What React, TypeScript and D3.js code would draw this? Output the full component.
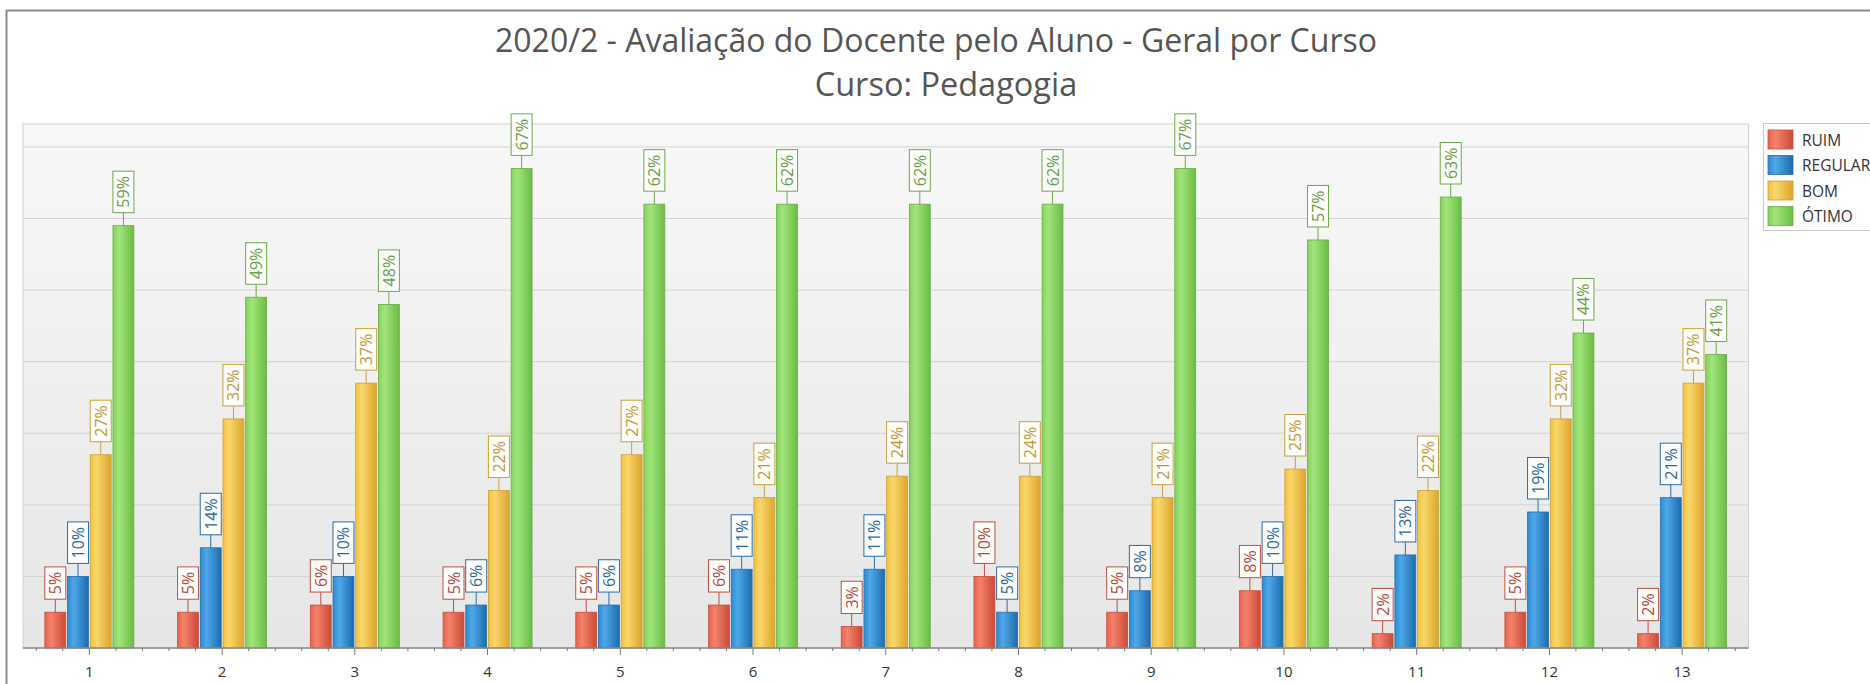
import React from 'react';
import * as d3 from 'd3';

const WIDTH = 1870;
const HEIGHT = 684;
const PLOT = { left: 23, right: 1748.5, top: 124, bottom: 648 };
const FONT = "'Open Sans', 'Noto Sans', sans-serif";

const CATEGORIES = ['1', '2', '3', '4', '5', '6', '7', '8', '9', '10', '11', '12', '13'];
const SERIES = ['RUIM', 'REGULAR', 'BOM', 'ÓTIMO'];
const RUIM = [5, 5, 6, 5, 5, 6, 3, 10, 5, 8, 2, 5, 2];
const REGULAR = [10, 14, 10, 6, 6, 11, 11, 5, 8, 10, 13, 19, 21];
const BOM = [27, 32, 37, 22, 27, 21, 24, 24, 21, 25, 22, 32, 37];
const OTIMO = [59, 49, 48, 67, 62, 62, 62, 62, 67, 57, 63, 44, 41];
const VALUES = [RUIM, REGULAR, BOM, OTIMO];
const GRID = [10, 20, 30, 40, 50, 60, 70];

// light / mid / dark for the bar gradient, then outline and label colour
const COLORS = [
    { light: '#f4826b', mid: '#e8634d', dark: '#cc4a37', stroke: '#c2503f', label: '#b4493b' },
    { light: '#4ea8e8', mid: '#2e8bd3', dark: '#1d6cad', stroke: '#2b6ea6', label: '#2b6a9a' },
    { light: '#f9d76c', mid: '#f2c23e', dark: '#dea52a', stroke: '#c9a13c', label: '#c09a38' },
    { light: '#a2e47c', mid: '#85d35a', dark: '#69bd43', stroke: '#6caa4a', label: '#68a04a' },
];

export default function App() {
    const x0 = d3.scaleBand().domain(CATEGORIES).range([PLOT.left, PLOT.right]).padding(0);
    const bw = x0.bandwidth();
    const x1 = d3.scaleBand().domain(SERIES).range([bw / 2 - 44.5, bw / 2 + 44.5]).paddingInner(0.08);
    const y = d3.scaleLinear().domain([0, 73.2]).range([PLOT.bottom, PLOT.top]);

    const ticks: { x: number; major: boolean }[] = [];
    CATEGORIES.forEach(c => {
        const cx = (x0(c) as number) + bw / 2;
        for (let k = -2; k <= 2; k++) ticks.push({ x: cx + k * bw / 5, major: k === 0 });
    });

    return (
        <svg width={WIDTH} height={HEIGHT} style={{ position: 'absolute', left: 0, top: 0, background: '#fff' }}>
            <defs>
                <linearGradient id="plotBg" x1="0" y1="0" x2="0" y2="1">
                    <stop offset="0" stopColor="#f8f8f8" />
                    <stop offset="1" stopColor="#e6e6e6" />
                </linearGradient>
                {COLORS.map((c, i) => (
                    <linearGradient key={i} id={`bar${i}`} x1="0" y1="0" x2="1" y2="0">
                        <stop offset="0" stopColor={c.mid} />
                        <stop offset="0.3" stopColor={c.light} />
                        <stop offset="1" stopColor={c.dark} />
                    </linearGradient>
                ))}
            </defs>

            {/* outer frame */}
            <line x1={6.5} x2={WIDTH} y1={10.5} y2={10.5} stroke="#8c8c8c" strokeWidth={2} />
            <line x1={6.5} x2={6.5} y1={10} y2={HEIGHT} stroke="#8c8c8c" strokeWidth={2} />

            {/* titles */}
            <g fontFamily={FONT} fill="#555" textAnchor="middle">
                <text x={936} y={52} fontSize={32}>2020/2 - Avaliação do Docente pelo Aluno - Geral por Curso</text>
                <text x={946} y={96} fontSize={32.5}>Curso: Pedagogia</text>
            </g>

            {/* plot area */}
            <rect x={PLOT.left} y={PLOT.top} width={PLOT.right - PLOT.left} height={PLOT.bottom - PLOT.top}
                fill="url(#plotBg)" stroke="#d0d0d0" />
            {GRID.map(g => (
                <line key={g} x1={PLOT.left} x2={PLOT.right} y1={y(g)} y2={y(g)} stroke="#d4d4d4" />
            ))}

            {/* bars */}
            {VALUES.map((vals, s) => (
                <g key={s}>
                    {vals.map((v, i) => {
                        const bx = (x0(CATEGORIES[i]) as number) + (x1(SERIES[s]) as number);
                        return (
                            <rect key={i} x={bx} y={y(v)} width={x1.bandwidth()} height={y(0) - y(v)}
                                fill={`url(#bar${s})`} stroke={COLORS[s].stroke} strokeWidth={0.8} />
                        );
                    })}
                </g>
            ))}

            {/* axis */}
            <line x1={PLOT.left} x2={PLOT.right} y1={PLOT.bottom} y2={PLOT.bottom} stroke="#8a8a8a" strokeWidth={1.5} />
            {ticks.map((t, i) => (
                <line key={i} x1={t.x} x2={t.x} y1={PLOT.bottom} y2={PLOT.bottom + (t.major ? 7 : 3)} stroke="#777" />
            ))}
            <g fontFamily={FONT} fontSize={15} fill="#333" textAnchor="middle">
                {CATEGORIES.map(c => (
                    <text key={c} x={(x0(c) as number) + bw / 2} y={677}>{c}</text>
                ))}
            </g>

            {/* data labels */}
            {VALUES.map((vals, s) => (
                <g key={s} fontFamily={FONT} fontSize={16}>
                    {vals.map((v, i) => {
                        const cx = (x0(CATEGORIES[i]) as number) + (x1(SERIES[s]) as number) + x1.bandwidth() / 2;
                        const top = y(v);
                        const label = `${v}%`;
                        const len = (label.length - 1) * 9.2 + 13.1 + 10;
                        const bottom = top - 13;
                        const bh = 21;
                        return (
                            <g key={i}>
                                <line x1={cx} x2={cx} y1={top} y2={bottom} stroke={COLORS[s].stroke} />
                                <rect x={cx - bh / 2} y={bottom - len} width={bh} height={len}
                                    fill="#fdfdfb" stroke={COLORS[s].stroke} />
                                <text transform={`translate(${cx},${bottom - len / 2}) rotate(-90)`}
                                    textAnchor="middle" dominantBaseline="central" fill={COLORS[s].label}>{label}</text>
                            </g>
                        );
                    })}
                </g>
            ))}

            {/* legend */}
            <rect x={1763.5} y={123.5} width={130} height={107} fill="#fff" stroke="#c8c8c8" />
            {SERIES.map((name, s) => (
                <g key={name} transform={`translate(1768,${130 + s * 25.5})`}>
                    <rect width={25} height={19} fill={`url(#bar${s})`} stroke={COLORS[s].stroke} strokeWidth={0.8} />
                    <text x={34} y={9.5} dominantBaseline="central" fontFamily={FONT} fontSize={15.5} fill="#333">{name}</text>
                </g>
            ))}
        </svg>
    );
}
